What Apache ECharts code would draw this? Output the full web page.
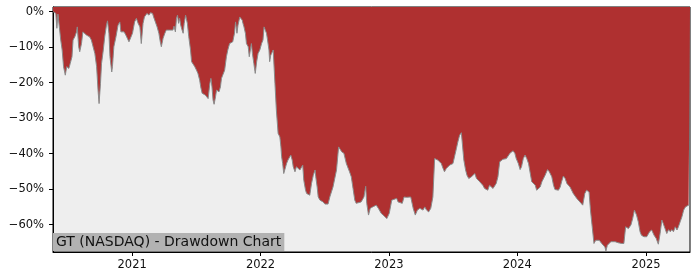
<!DOCTYPE html>
<html>
<head>
<meta charset="utf-8">
<script src="https://cdn.jsdelivr.net/npm/echarts@6/dist/echarts.min.js"></script>
<style>
html,body{margin:0;padding:0;background:#fff;}
#chart{width:700px;height:280px;}
</style>
</head>
<body>
<div id="chart"></div>
<script>
const chartLabel = 'GT (NASDAQ) - Drawdown Chart';
const yearTicks = ['2021-01-01', '2022-01-01', '2023-01-01', '2024-01-01', '2025-01-01'];
const yTicks = [0, -10, -20, -30, -40, -50, -60];
const xRange = ['2020-05-21', '2025-05-06'];
const yRange = [-67.7, 1.3];

const dates = [
'2020-05-21','2020-05-24','2020-05-29','2020-06-01','2020-06-04','2020-06-09','2020-06-12','2020-06-16','2020-06-20','2020-06-25',
'2020-06-29','2020-07-05','2020-07-09','2020-07-14','2020-07-17','2020-07-22','2020-07-27','2020-07-29','2020-08-02','2020-08-05',
'2020-08-10','2020-08-14','2020-08-19','2020-08-24','2020-08-29','2020-09-02','2020-09-07','2020-09-12','2020-09-17','2020-09-22',
'2020-09-26','2020-09-29','2020-10-03','2020-10-06','2020-10-11','2020-10-15','2020-10-20','2020-10-23','2020-10-27','2020-10-30',
'2020-11-04','2020-11-06','2020-11-10','2020-11-16','2020-11-22','2020-11-27','2020-11-30','2020-12-04','2020-12-09','2020-12-14',
'2020-12-19','2020-12-23','2020-12-28',
'2021-01-02','2021-01-08','2021-01-13','2021-01-18','2021-01-23','2021-01-27','2021-02-01','2021-02-05','2021-02-09','2021-02-12',
'2021-02-18','2021-02-22','2021-02-28','2021-03-03','2021-03-08','2021-03-13','2021-03-18','2021-03-22','2021-03-25','2021-03-30',
'2021-04-04','2021-04-08','2021-04-13','2021-04-18','2021-04-23','2021-04-27','2021-04-30','2021-05-04','2021-05-07','2021-05-10',
'2021-05-13','2021-05-16','2021-05-19','2021-05-23','2021-05-26','2021-05-29','2021-06-02','2021-06-04','2021-06-07','2021-06-11',
'2021-06-16','2021-06-19','2021-06-23','2021-06-28','2021-07-03','2021-07-07','2021-07-12','2021-07-15','2021-07-19','2021-07-24',
'2021-07-28','2021-08-02','2021-08-05','2021-08-10','2021-08-13','2021-08-16','2021-08-19','2021-08-22','2021-08-26','2021-08-29',
'2021-09-02','2021-09-05','2021-09-09','2021-09-12','2021-09-17','2021-09-21','2021-09-26','2021-09-30','2021-10-05','2021-10-10',
'2021-10-14','2021-10-19','2021-10-22','2021-10-26','2021-10-29','2021-11-03','2021-11-06','2021-11-10','2021-11-12','2021-11-15',
'2021-11-19','2021-11-22','2021-11-27','2021-11-30','2021-12-03','2021-12-06','2021-12-09','2021-12-13','2021-12-17','2021-12-21',
'2021-12-25','2021-12-30',
'2022-01-04','2022-01-08','2022-01-11','2022-01-15','2022-01-18','2022-01-21','2022-01-25','2022-01-27','2022-01-30','2022-02-03',
'2022-02-06','2022-02-09','2022-02-11','2022-02-15','2022-02-20','2022-02-25','2022-02-28','2022-03-02','2022-03-05','2022-03-08',
'2022-03-11','2022-03-16','2022-03-20','2022-03-25','2022-03-28','2022-04-01','2022-04-04','2022-04-09','2022-04-13','2022-04-18',
'2022-04-23','2022-04-28','2022-05-01','2022-05-04','2022-05-09','2022-05-12','2022-05-16','2022-05-21','2022-05-26','2022-05-31',
'2022-06-05','2022-06-07','2022-06-11','2022-06-14','2022-06-19','2022-06-24','2022-06-28','2022-07-03','2022-07-08','2022-07-12',
'2022-07-17','2022-07-26','2022-08-05','2022-08-11','2022-08-16','2022-08-20','2022-08-26','2022-09-02','2022-09-07','2022-09-11',
'2022-09-16','2022-09-21','2022-09-26','2022-09-30','2022-10-05','2022-10-14','2022-10-22','2022-10-27','2022-10-30','2022-11-04',
'2022-11-09','2022-11-16','2022-11-26','2022-12-02','2022-12-10','2022-12-19','2022-12-26',
'2023-01-02','2023-01-09','2023-01-13','2023-01-23','2023-01-27','2023-02-01','2023-02-08','2023-02-13','2023-02-20','2023-02-25',
'2023-03-04','2023-03-11','2023-03-17','2023-03-23','2023-03-30','2023-04-08','2023-04-13','2023-04-18','2023-04-24','2023-04-30',
'2023-05-06','2023-05-11','2023-05-16','2023-05-20','2023-05-25','2023-05-30','2023-06-04','2023-06-08','2023-06-13','2023-06-18',
'2023-06-23','2023-06-27','2023-07-02','2023-07-07','2023-07-12','2023-07-16','2023-07-21','2023-07-26','2023-07-29','2023-08-02',
'2023-08-07','2023-08-11','2023-08-16','2023-08-24','2023-08-28','2023-09-02','2023-09-07','2023-09-11','2023-09-16','2023-09-21',
'2023-09-25','2023-09-30','2023-10-05','2023-10-09','2023-10-14','2023-10-19','2023-10-24','2023-10-29','2023-11-02','2023-11-07',
'2023-11-12','2023-11-17','2023-11-21','2023-11-26','2023-12-01','2023-12-06','2023-12-11','2023-12-15','2023-12-20','2023-12-25',
'2023-12-29',
'2024-01-04','2024-01-09','2024-01-13','2024-01-18','2024-01-23','2024-01-28','2024-02-02','2024-02-06','2024-02-11','2024-02-16',
'2024-02-21','2024-02-25','2024-03-01','2024-03-06','2024-03-11','2024-03-20','2024-03-27','2024-04-01','2024-04-08','2024-04-13',
'2024-04-17','2024-04-22','2024-04-27','2024-05-02','2024-05-06','2024-05-11','2024-05-16','2024-05-21','2024-05-25','2024-05-30',
'2024-06-08','2024-06-18','2024-06-27','2024-07-05','2024-07-11','2024-07-16','2024-07-23','2024-07-27','2024-08-01','2024-08-06',
'2024-08-11','2024-08-16','2024-08-21','2024-08-28','2024-09-01','2024-09-06','2024-09-09','2024-09-13','2024-09-18','2024-09-23',
'2024-09-28','2024-10-05','2024-10-14','2024-10-24','2024-10-30','2024-11-04','2024-11-12','2024-11-19','2024-11-24','2024-11-29',
'2024-12-05','2024-12-10','2024-12-15','2024-12-19','2024-12-26',
'2025-01-03','2025-01-11','2025-01-17','2025-01-24','2025-01-30','2025-02-05','2025-02-10','2025-02-15','2025-02-19','2025-02-24',
'2025-03-01','2025-03-06','2025-03-11','2025-03-15','2025-03-20','2025-03-25','2025-03-30','2025-04-03','2025-04-08','2025-04-13',
'2025-04-18','2025-04-23','2025-04-27','2025-05-02','2025-05-06'
];

const drawdown = [
0,0,-0.5,-4.7,-0.7,-0.5,-8.0,-10.8,-15.5,-17.9,
-15.5,-16.0,-14.6,-12.7,-8.0,-7.1,-5.7,-4.3,-9.9,-11.3,
-9.0,-5.7,-5.2,-6.6,-6.1,-7.1,-8.0,-8.5,-11.8,-15.5,
-22.1,-25.9,-20.2,-14.6,-10.8,-7.1,-3.8,-2.6,-6.1,-12.7,
-17.0,-15.5,-9.9,-7.1,-3.8,-2.9,-5.7,-6.1,-5.7,-6.6,
-6.1,-8.5,-8.5,
-6.1,-2.9,-1.9,-3.3,-4.3,-9.0,-3.3,-1.5,-1.0,-0.5,
-1.0,-0.3,-0.5,-1.5,-2.9,-4.3,-6.1,-8.5,-9.9,-7.5,
-6.1,-5.2,-5.7,-5.2,-5.7,-5.2,-4.1,-5.7,-1.9,-1.0,
-3.3,-1.9,-3.8,-5.2,-6.1,-3.3,-1.0,-0.7,-3.3,-7.1,
-10.8,-14.1,-14.6,-15.5,-16.5,-17.4,-19.3,-21.2,-23.0,-23.5,
-23.5,-24.0,-24.5,-20.2,-18.8,-21.2,-24.9,-26.1,-24.0,-22.1,
-21.6,-22.6,-21.2,-18.8,-19.3,-16.5,-12.7,-10.8,-9.0,-8.5,
-8.5,-6.1,-2.9,-6.1,-3.8,-1.5,-1.3,-2.4,-3.3,-4.3,
-6.1,-9.0,-9.9,-12.7,-13.2,-9.0,-11.8,-14.6,-17.4,-14.1,
-11.8,-10.8,
-9.0,-8.0,-4.3,-4.1,-6.1,-8.0,-10.8,-14.1,-12.3,-11.8,
-10.8,-10.8,-20.2,-27.7,-34.3,-35.3,-38.1,-40.9,-42.8,-45.6,
-46.1,-42.8,-41.8,-41.4,-40.4,-41.8,-43.7,-45.1,-43.7,-43.2,
-44.6,-44.2,-43.2,-47.5,-50.3,-51.2,-50.8,-51.7,-48.4,-46.1,
-44.6,-46.5,-49.4,-52.2,-53.1,-52.8,-53.6,-54.2,-54.5,-54.2,
-52.2,-49.4,-44.6,-38.1,-37.6,-39.5,-39.9,-42.8,-42.3,-45.1,
-46.5,-49.8,-53.1,-54.0,-53.6,-53.6,-52.2,-49.2,-54.0,-57.3,
-55.4,-55.0,-54.5,-55.4,-56.8,-57.6,-58.3,
-56.8,-53.1,-52.6,-52.6,-53.6,-53.1,-54.0,-52.2,-52.3,-52.0,
-52.2,-55.4,-57.3,-55.9,-55.4,-55.9,-55.0,-55.9,-56.4,-55.4,
-52.2,-41.4,-40.9,-41.8,-41.4,-42.8,-44.2,-45.1,-44.2,-44.6,
-43.2,-43.7,-42.8,-43.2,-38.5,-36.7,-34.8,-34.1,-34.3,-41.8,
-44.6,-46.1,-47.0,-46.5,-46.1,-45.6,-47.0,-47.5,-47.9,-48.4,
-48.9,-49.8,-49.4,-50.3,-48.9,-49.4,-49.8,-50.3,-48.4,-46.5,
-42.3,-41.8,-41.6,-41.8,-41.4,-41.4,-39.9,-39.5,-39.2,-39.9,
-41.4,
-42.8,-44.5,-43.7,-41.4,-40.4,-41.4,-42.8,-43.2,-47.9,-48.4,
-48.9,-50.3,-50.8,-49.4,-47.9,-46.1,-44.5,-45.1,-46.5,-48.9,
-50.1,-50.5,-50.3,-49.4,-47.9,-46.3,-47.0,-48.4,-48.9,-49.4,
-51.2,-52.6,-53.6,-54.5,-51.2,-50.3,-50.8,-55.9,-60.6,-65.3,
-64.4,-63.9,-64.4,-65.3,-65.8,-66.3,-67.4,-65.8,-65.3,-64.8,
-64.8,-64.8,-65.1,-65.3,-65.3,-60.6,-61.1,-60.1,-58.3,-55.9,
-57.3,-59.2,-62.0,-63.0,-63.4,
-63.4,-62.0,-61.5,-63.0,-63.9,-65.5,-62.5,-58.7,-59.7,-61.1,
-62.5,-61.4,-62.0,-61.4,-62.0,-60.6,-61.5,-60.6,-59.2,-57.8,
-55.9,-55.0,-54.8,-54.5,-54.5
];

const FONT = 'DejaVu Sans';
const toTime = s => { const p = s.split('-'); return Date.UTC(+p[0], +p[1] - 1, +p[2]); };
const seriesData = dates.map((d, i) => [toTime(d), drawdown[i]]);
const yearTickValues = yearTicks.map(toTime);

const chart = echarts.init(document.getElementById('chart'), null, { renderer: 'canvas' });
chart.setOption({
  animation: false,
  backgroundColor: '#ffffff',
  title: {
    text: chartLabel,
    left: 53,
    top: 233,
    padding: [2, 3, 1, 3],
    backgroundColor: '#B2B2B2',
    textStyle: { fontFamily: FONT, fontSize: 14, fontWeight: 'normal', color: '#111', lineHeight: 15 },
    z: 10
  },
  grid: {
    left: 53, right: 10, top: 7, bottom: 28,
    containLabel: false,
    outerBoundsMode: 'none',
    show: true,
    backgroundColor: '#EEEEEE',
    borderColor: '#000',
    borderWidth: 1
  },
  xAxis: {
    type: 'value',
    min: toTime(xRange[0]),
    max: toTime(xRange[1]),
    axisLine: { show: true, onZero: false, lineStyle: { color: '#000', width: 1 } },
    axisTick: { show: true, length: 4, lineStyle: { color: '#000' }, customValues: yearTickValues },
    axisLabel: {
      customValues: yearTickValues,
      margin: 7,
      fontFamily: FONT, fontSize: 11.5, color: '#111',
      formatter: v => String(new Date(v).getUTCFullYear())
    },
    splitLine: { show: false },
    minorTick: { show: false }
  },
  yAxis: {
    type: 'value',
    min: yRange[0],
    max: yRange[1],
    axisLine: { show: true, onZero: false, lineStyle: { color: '#000', width: 1 } },
    axisTick: { show: true, length: 4, lineStyle: { color: '#000' }, customValues: yTicks },
    axisLabel: {
      customValues: yTicks,
      margin: 9,
      fontFamily: FONT, fontSize: 11.5, color: '#111',
      formatter: v => (v < 0 ? '\u2212' + Math.abs(v) : String(v)) + '%'
    },
    splitLine: { show: false }
  },
  series: [{
    type: 'line',
    data: seriesData,
    showSymbol: false,
    symbol: 'none',
    lineStyle: { color: '#8a8a8a', width: 1 },
    areaStyle: { color: '#AF3030', opacity: 1, origin: 'end' },
    z: 2
  }]
});
</script>
</body>
</html>
